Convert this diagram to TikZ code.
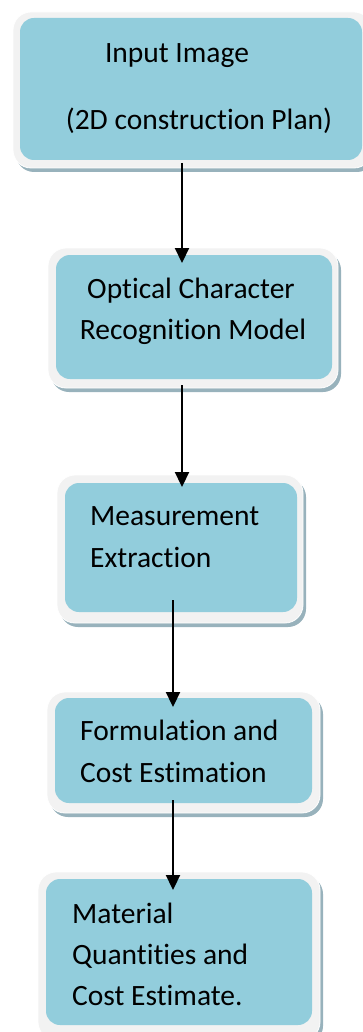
\documentclass[tikz,border=0pt]{standalone}
\usepackage{fontspec}
\setmainfont[Ligatures={NoCommon}]{Carlito}
\usetikzlibrary{arrows.meta}
\definecolor{boxfill}{HTML}{92CDDC}
\definecolor{bandc}{HTML}{F2F2F2}
\definecolor{shadowc}{HTML}{98B2BC}
\tikzset{
  shadowbox/.style={fill=shadowc, rounded corners=18pt},
  bandbox/.style={fill=bandc, draw=white, line width=0.8pt, rounded corners=18pt},
  innerbox/.style={fill=boxfill, rounded corners=14pt},
  lbl/.style={inner sep=0pt, font=\fontsize{29.5}{35}\selectfont},
  flow/.style={line width=2.2pt, -{Triangle[width=14pt,length=15pt]}}
}
\newcommand\flowbox[9]{%
  \fill[shadowbox] (#2+3,#3+4) rectangle (#4+3,#5+4);
  \filldraw[bandbox] (#2,#3) rectangle (#4,#5);
  \fill[innerbox] (#6,#7) rectangle (#8,#9);
  \coordinate (#1) at ({(#6+#8)/2},{(#7+#9)/2});
}
\begin{document}
\begin{tikzpicture}[x=1pt,y=-1pt]
\useasboundingbox (0,0) rectangle (363,1032);
\flowbox{b1}{13}{12}{372}{168}{20}{18}{362}{160}
\flowbox{b2}{48}{248}{338}{388}{56}{255}{332}{379}
\flowbox{b3}{57}{475}{303}{623}{65}{483}{297}{612}
\flowbox{b4}{47}{692}{320}{813}{55}{698}{312}{803}
\flowbox{b5}{38}{872}{320}{1040}{46}{879}{312}{1025}

\node[lbl, anchor=base] (t1a) at (177,63) {Input Image};
\node[lbl, anchor=base] (t1b) at (199,130) {(2D construction Plan)};
\node[lbl, anchor=base] (t2a) at (191,298) {Optical Character};
\node[lbl, anchor=base] (t2b) at (193,339) {Recognition Model};
\node[lbl, anchor=base west] (t3a) at (90,525) {Measurement};
\node[lbl, anchor=base west] (t3b) at (90,567) {Extraction};
\node[lbl, anchor=base west] (t4a) at (80,740) {Formulation and};
\node[lbl, anchor=base west] (t4b) at (80,782) {Cost Estimation};
\node[lbl, anchor=base west] (t5a) at (72,923) {Material};
\node[lbl, anchor=base west] (t5b) at (72,964) {Quantities and};
\node[lbl, anchor=base west] (t5c) at (72,1005) {Cost Estimate.};

\coordinate (a1s) at (182,163);
\coordinate (a1e) at (182,263);
\coordinate (a2s) at (182,385);
\coordinate (a2e) at (182,487);
\coordinate (a3s) at (173,600);
\coordinate (a3e) at (173,707);
\coordinate (a4s) at (173,800);
\coordinate (a4e) at (173,890);
\draw[flow] (a1s) -- (a1e);
\draw[flow] (a2s) -- (a2e);
\draw[flow] (a3s) -- (a3e);
\draw[flow] (a4s) -- (a4e);
\end{tikzpicture}
\end{document}
